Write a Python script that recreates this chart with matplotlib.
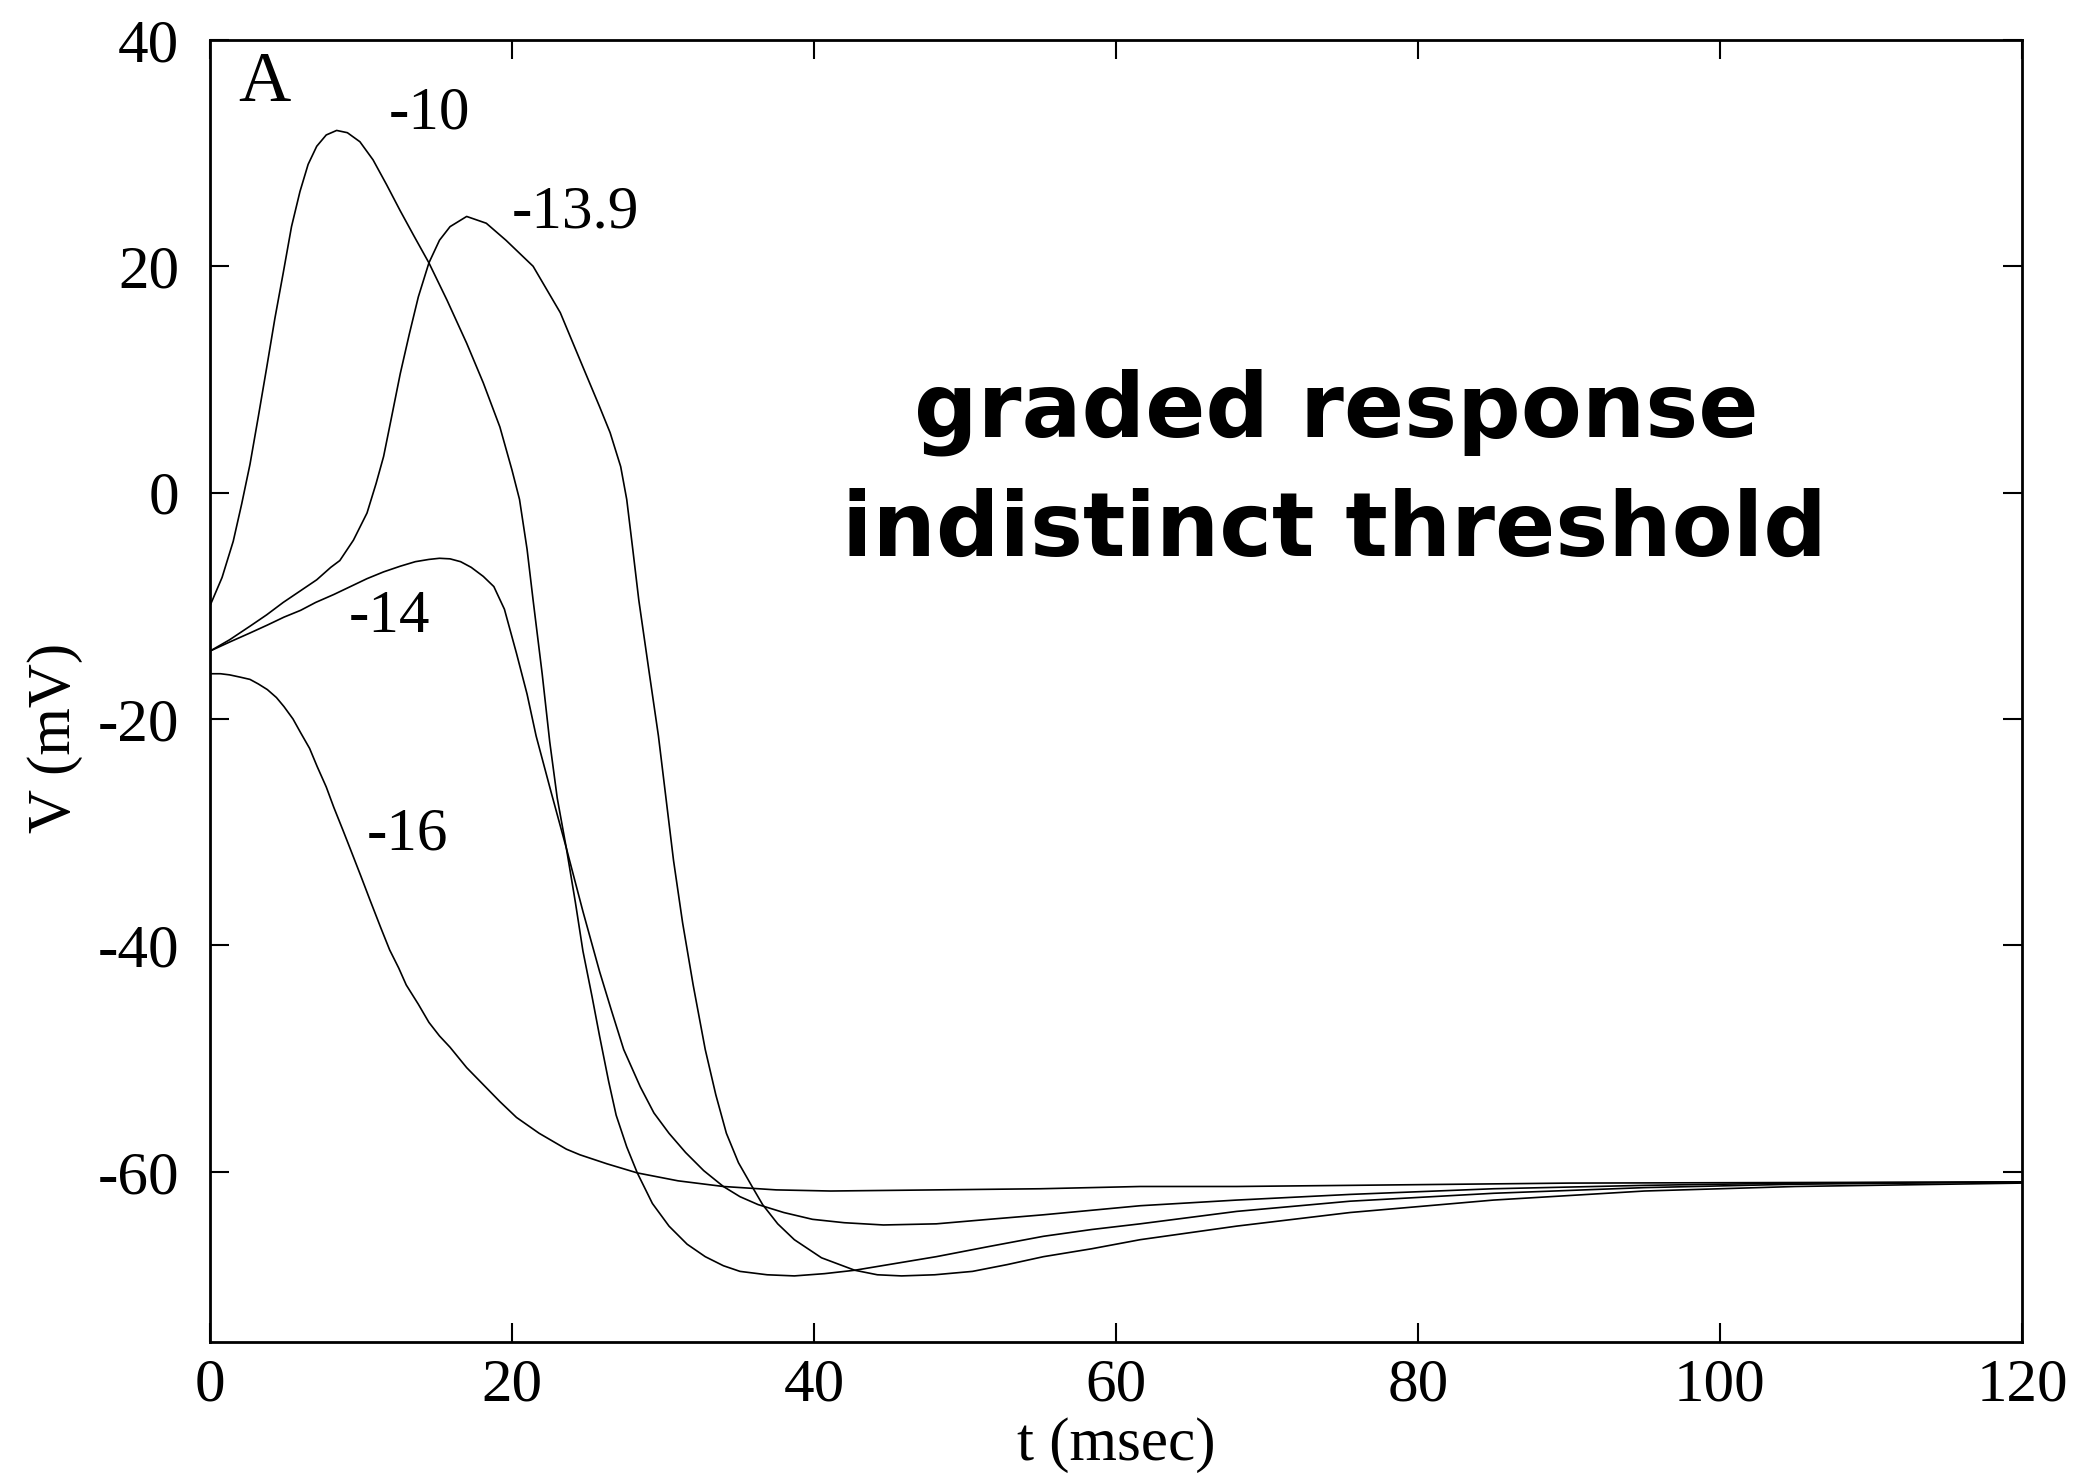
import numpy as np
import matplotlib
matplotlib.use('Agg')
import matplotlib.pyplot as plt

plt.rcParams['axes.unicode_minus'] = False

# membrane potential traces, t in msec, V in mV
t_m10 = [0, 0.8, 1.54, 2.1, 2.65, 3.2, 3.75, 4.3, 4.85, 5.4, 5.96, 6.5, 7.07, 7.7, 8.39,
         9.1, 9.93, 10.8, 11.7, 12.6, 13.5, 14.5, 15.7, 17.0, 18.1, 19.2, 20.0, 20.5,
         21.0, 21.4, 22.0, 22.5, 23.0, 23.6, 24.2, 24.7, 25.3, 25.8, 26.4, 26.9, 27.6,
         28.3, 29.3, 30.4, 31.6, 32.8, 34.0, 35.1, 36.9, 38.7, 40.7, 42.7, 45.4, 48.1,
         51.6, 55.2, 58.4, 61.6, 68, 75.5, 85, 95, 105, 120]
v_m10 = [-10, -7.5, -4.3, -1.0, 2.5, 6.7, 11.0, 15.4, 19.4, 23.5, 26.6, 29.0, 30.6, 31.6, 32.0,
         31.8, 31.0, 29.4, 27.2, 24.9, 22.7, 20.3, 17.0, 13.2, 9.7, 5.8, 2.0, -0.6,
         -5.0, -9.5, -16.0, -22.0, -27.0, -31.4, -36.2, -40.5, -44.5, -48.0, -52.0, -55.0, -57.8,
         -60.1, -62.8, -64.8, -66.4, -67.5, -68.3, -68.8, -69.1, -69.2, -69.0, -68.7, -68.1, -67.5,
         -66.6, -65.7, -65.1, -64.6, -63.5, -62.6, -61.9, -61.4, -61.1, -60.9]

t_m139 = [0, 1.3, 2.65, 3.75, 4.85, 5.96, 7.07, 8.0, 8.6, 9.5, 10.4, 11.0, 11.5, 12.0, 12.6,
          13.2, 13.8, 14.5, 15.2, 15.9, 17.0, 18.3, 19.6, 21.4, 23.2, 24.7, 25.8, 26.5,
          27.2, 27.6, 28.0, 28.4, 29.1, 29.7, 30.2, 30.7, 31.3, 32.0, 32.8, 33.5, 34.2,
          35.0, 35.9, 36.6, 37.6, 38.7, 40.5, 42.7, 44.2, 45.8, 48.0, 50.5, 52.8, 55.2,
          58.4, 61.6, 68, 75.5, 85, 95, 105, 120]
v_m139 = [-14, -13.0, -11.8, -10.8, -9.7, -8.7, -7.7, -6.6, -6.0, -4.2, -1.8, 0.8, 3.2, 6.5, 10.5,
          14.0, 17.3, 20.3, 22.3, 23.5, 24.4, 23.8, 22.3, 20.0, 15.9, 11.1, 7.6, 5.3,
          2.3, -0.6, -5.0, -9.5, -16.0, -21.5, -27.0, -32.5, -38.0, -43.5, -49.2, -53.2, -56.6,
          -59.2, -61.3, -62.9, -64.6, -66.0, -67.6, -68.7, -69.1, -69.2, -69.1, -68.8, -68.2, -67.5,
          -66.8, -66.0, -64.8, -63.6, -62.5, -61.7, -61.3, -61.0]

t_m14 = [0, 1.3, 2.65, 3.8, 4.9, 6.0, 7.0, 8.2, 9.3, 10.4, 11.5, 12.6, 13.6, 14.5, 15.2,
         15.9, 16.6, 17.3, 18.1, 18.8, 19.5, 20.3, 21.0, 21.6, 22.6, 23.6, 24.7, 25.8,
         26.6, 27.4, 28.5, 29.4, 30.4, 31.5, 32.7, 34.0, 35.1, 36.3, 38.0, 39.9, 42.0,
         44.6, 48.1, 51.6, 55.2, 61.6, 68, 75.5, 85, 95, 105, 120]
v_m14 = [-14, -13.2, -12.4, -11.7, -11.0, -10.4, -9.7, -9.0, -8.3, -7.6, -7.0, -6.5, -6.1, -5.9, -5.8,
         -5.85, -6.1, -6.6, -7.4, -8.3, -10.3, -14.2, -17.8, -21.5, -26.5, -31.4, -37.0, -42.3,
         -45.8, -49.2, -52.5, -54.8, -56.6, -58.3, -59.9, -61.3, -62.2, -62.9, -63.6, -64.2, -64.5,
         -64.7, -64.6, -64.2, -63.8, -63.0, -62.5, -62.0, -61.5, -61.2, -61.0, -60.9]

t_m16 = [0, 0.7, 1.3, 2.0, 2.65, 3.2, 3.8, 4.4, 4.9, 5.5, 6.0, 6.6, 7.1, 7.7, 8.2, 8.8,
         9.3, 10.0, 10.6, 11.3, 11.9, 12.5, 13.0, 13.8, 14.5, 15.2, 15.9, 17.0, 18.1,
         19.2, 20.3, 21.8, 23.6, 24.5, 26.3, 28.3, 31.0, 34.0, 37.5, 41.1, 48.1, 55,
         61.6, 68, 75.5, 90, 105, 120]
v_m16 = [-16, -16.0, -16.1, -16.3, -16.5, -16.9, -17.4, -18.1, -18.9, -20.0, -21.2, -22.6,
         -24.2, -26.0, -27.8, -29.8, -31.5, -33.9, -36.0, -38.4, -40.4, -42.0, -43.5, -45.2,
         -46.8, -48.0, -49.0, -50.8, -52.3, -53.8, -55.2, -56.6, -58.0, -58.5, -59.3, -60.1,
         -60.8, -61.3, -61.6, -61.7, -61.6, -61.5, -61.3, -61.3, -61.2, -61.0, -60.95, -60.9]

curve_labels = ['-10', '-13.9', '-14', '-16']
label_t = [11.85, 19.97, 9.16, 10.4]
label_v = [32.2, 23.4, -12.3, -31.5]

x_ticks = [0, 20, 40, 60, 80, 100, 120]
y_ticks = [-60, -40, -20, 0, 20, 40]

serif = 'Liberation Serif'
fs = 44

fig = plt.figure(figsize=(20.83, 14.77), dpi=100)
ax = fig.add_axes([0.1008, 0.0917, 0.8699, 0.8813])

for t, v in [(t_m10, v_m10), (t_m139, v_m139), (t_m14, v_m14), (t_m16, v_m16)]:
    ax.plot(t, v, color='black', lw=1.2, solid_joinstyle='round')

for lab, tx, vy in zip(curve_labels, label_t, label_v):
    ax.text(tx, vy, lab, family=serif, fontsize=fs, ha='left', va='baseline')
ax.text(1.9, 34.6, 'A', family=serif, fontsize=52, ha='left', va='baseline')

ax.text(74.6, 5.0, 'graded response', family='DejaVu Sans', fontweight='bold',
        fontsize=64, ha='center', va='baseline')
ax.text(74.5, -5.6, 'indistinct threshold', family='DejaVu Sans', fontweight='bold',
        fontsize=64, ha='center', va='baseline')

ax.set_xlim(0, 120)
ax.set_ylim(-75, 40)
ax.set_xticks(x_ticks)
ax.set_yticks(y_ticks)
ax.tick_params(direction='in', length=13.5, width=1.5, top=True, right=True,
               labelsize=fs)
ax.tick_params(axis='x', pad=12)
ax.tick_params(axis='y', pad=22)
for lbl in ax.get_xticklabels() + ax.get_yticklabels():
    lbl.set_family(serif)
for sp in ax.spines.values():
    sp.set_linewidth(2.0)

ax.set_xlabel('t (msec)', family=serif, fontsize=fs)
ax.set_ylabel('V (mV)', family=serif, fontsize=fs)
ax.xaxis.set_label_coords(0.5, -0.058)
ax.yaxis.set_label_coords(-0.07, 0.464)

fig.savefig('out.png', dpi=100)
